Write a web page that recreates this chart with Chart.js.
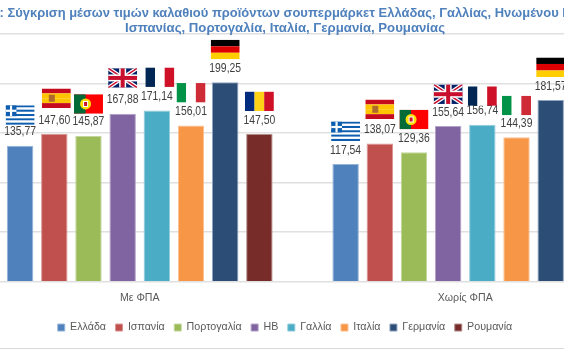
<!DOCTYPE html>
<html>
<head>
<meta charset="utf-8">
<script src="https://cdn.jsdelivr.net/npm/chart.js@4"></script>
<style>
    html, body { margin: 0; padding: 0; background: #fff; }
    body { width: 564px; height: 353px; overflow: hidden; position: relative; }
    #priceChart { position: absolute; left: -58px; top: 0; }
</style>
</head>
<body>
<canvas id="priceChart" width="686" height="353"></canvas>
<script>
// Data. Romania "Χωρίς ΦΠΑ" sits outside the crop, so it stays empty.
const categories = ['Με ΦΠΑ', 'Χωρίς ΦΠΑ'];
const countries = ['Ελλάδα', 'Ισπανία', 'Πορτογαλία', 'ΗΒ', 'Γαλλία', 'Ιταλία', 'Γερμανία', 'Ρουμανία'];
const withVat = [135.77, 147.60, 145.87, 167.88, 171.14, 156.01, 199.25, 147.50];
const withoutVat = [117.54, 138.07, 129.36, 155.64, 156.74, 144.39, 181.57, null];
const titleLines = [
    '\u00a0'.repeat(16) + ': Σύγκριση μέσων τιμών καλαθιού προϊόντων σουπερμάρκετ Ελλάδας, Γαλλίας, Ηνωμένου Βασιλείου,',
    'Ισπανίας, Πορτογαλία, Ιταλία, Γερμανία, Ρουμανίας'
];

const barColors = ['#4F81BD', '#C0504D', '#9BBB59', '#8064A2', '#4BACC6', '#F79646', '#2C4D75', '#772C2A'];
const edgeColors = ['#95B3D7', '#D99694', '#C3D69B', '#B2A2C7', '#92CDDC', '#FAC090', '#8EA4BF', '#B08A88'];
const flagCodes = ['gr', 'es', 'pt', 'gb', 'fr', 'it', 'de', 'ro'];

// the flags were placed by hand in the original, so each one has its own lift over the bar
const flagLift = [[21, 26, 22, 26, 23.5, 23, 23, 23], [23, 24.5, 23, 22, 19, 22, 23, 23]];
const flagNudge = [[0, 2, 0, 0, 3, 0, 0, 0], [0, 0, 0, 0, 0, 0, 0, 0]];

function stripes(ctx, x, y, w, h, colors, vertical) {
    colors.forEach((c, i) => {
        ctx.fillStyle = c;
        if (vertical) ctx.fillRect(x + w * i / colors.length, y, w / colors.length, h);
        else ctx.fillRect(x, y + h * i / colors.length, w, h / colors.length);
    });
}

function drawFlag(ctx, code, x, y, w, h) {
    ctx.save();
    ctx.beginPath();
    ctx.rect(x, y, w, h);
    ctx.clip();
    if (code === 'fr') stripes(ctx, x, y, w, h, ['#002654', '#ffffff', '#CE1126'], true);
    if (code === 'it') stripes(ctx, x, y, w, h, ['#009246', '#ffffff', '#CE2B37'], true);
    if (code === 'ro') stripes(ctx, x, y, w, h, ['#002B7F', '#FCD116', '#CE1126'], true);
    if (code === 'de') stripes(ctx, x, y, w, h, ['#000000', '#DD0000', '#FFCE00'], false);
    if (code === 'es') {
        stripes(ctx, x, y, w, h, ['#C60B1E', '#FFC400', '#FFC400', '#C60B1E'], false);
        ctx.fillStyle = '#AD6A2C';
        ctx.fillRect(x + 7, y + h / 2 - 3.5, 6, 7);
    }
    if (code === 'pt') {
        ctx.fillStyle = '#FF0000';
        ctx.fillRect(x, y, w, h);
        ctx.fillStyle = '#046A38';
        ctx.fillRect(x, y, w * 0.4, h);
        ctx.fillStyle = '#FFE000';
        ctx.beginPath();
        ctx.arc(x + w * 0.4, y + h / 2, 5.5, 0, Math.PI * 2);
        ctx.fill();
        ctx.fillStyle = '#ffffff';
        ctx.fillRect(x + w * 0.4 - 2.5, y + h / 2 - 3, 5, 6);
        ctx.fillStyle = '#C8102E';
        ctx.fillRect(x + w * 0.4 - 1.5, y + h / 2 - 2, 3, 4);
    }
    if (code === 'gr') {
        const blue = '#0D5EAF';
        const rows = [];
        for (let i = 0; i < 9; i++) rows.push(i % 2 ? '#ffffff' : blue);
        stripes(ctx, x, y, w, h, rows, false);
        const c = h * 5 / 9;
        ctx.fillStyle = blue;
        ctx.fillRect(x, y, c, c);
        ctx.fillStyle = '#ffffff';
        ctx.fillRect(x + c * 0.4, y, c * 0.2, c);
        ctx.fillRect(x, y + c * 0.4, c, c * 0.2);
    }
    if (code === 'gb') {
        ctx.fillStyle = '#012169';
        ctx.fillRect(x, y, w, h);
        const cross = (color, lw) => {
            ctx.strokeStyle = color;
            ctx.lineWidth = lw;
            ctx.beginPath();
            ctx.moveTo(x, y);
            ctx.lineTo(x + w, y + h);
            ctx.moveTo(x + w, y);
            ctx.lineTo(x, y + h);
            ctx.stroke();
        };
        cross('#ffffff', 4);
        cross('#C8102E', 1.5);
        ctx.fillStyle = '#ffffff';
        ctx.fillRect(x + w / 2 - 3.5, y, 7, h);
        ctx.fillRect(x, y + h / 2 - 3.5, w, 7);
        ctx.fillStyle = '#C8102E';
        ctx.fillRect(x + w / 2 - 2, y, 4, h);
        ctx.fillRect(x, y + h / 2 - 2, w, 4);
    }
    ctx.restore();
}

// value labels and flags over every bar
const barNotes = {
    id: 'barNotes',
    afterDatasetsDraw(chart) {
        const ctx = chart.ctx;
        chart.data.datasets.forEach((ds, d) => {
            chart.getDatasetMeta(d).data.forEach((bar, c) => {
                if (ds.data[c] === null) return;
                ctx.save();
                ctx.translate(bar.x, bar.y - 14);
                ctx.scale(0.8, 1);
                ctx.font = '13px "Liberation Sans"';
                ctx.fillStyle = '#404040';
                ctx.textAlign = 'center';
                ctx.textBaseline = 'middle';
                ctx.fillText(ds.data[c].toFixed(2).replace('.', ','), 0, 0);
                ctx.restore();
                drawFlag(ctx, flagCodes[d], bar.x - 14.5 + flagNudge[c][d], bar.y - flagLift[c][d] - 19.5, 29, 19.5);
            });
        });
    }
};

// thin rule that closes the chart box at the bottom
const frameLine = {
    id: 'frameLine',
    beforeDraw(chart) {
        const ctx = chart.ctx;
        ctx.save();
        ctx.fillStyle = '#D9D9D9';
        ctx.fillRect(0, 348, chart.width, 1);
        ctx.restore();
    }
};

const priceChart = new Chart(document.getElementById('priceChart'), {
    type: 'bar',
    data: {
        labels: categories,
        datasets: countries.map((name, i) => ({
            label: name,
            data: [withVat[i], withoutVat[i]],
            backgroundColor: barColors[i],
            borderColor: edgeColors[i],
            borderWidth: 1
        }))
    },
    plugins: [barNotes, frameLine],
    options: {
        responsive: false,
        animation: false,
        layout: { padding: { left: 0, right: 0, top: 0, bottom: 10.1 } },
        datasets: { bar: { categoryPercentage: 0.84, barPercentage: 0.774 } },
        scales: {
            x: {
                grid: { display: false, drawTicks: false },
                border: { display: false },
                afterFit(axis) { axis.height = 30.9; },
                ticks: { color: '#595959', font: { family: '"Liberation Sans"', size: 10.6 }, padding: 10 }
            },
            y: {
                display: true,
                min: 0,
                max: 247.5,
                afterFit(axis) { axis.width = 35; },
                ticks: { stepSize: 50, display: false },
                grid: { color: '#E0E0E0', lineWidth: 1.5, drawTicks: false },
                border: { display: false }
            }
        },
        plugins: {
            title: {
                display: true,
                text: titleLines,
                color: '#4F81BD',
                font: { family: '"Liberation Sans"', size: 13.2, weight: 'bold', lineHeight: 1.15 },
                padding: { top: 5.6, bottom: -2 }
            },
            legend: {
                position: 'bottom',
                labels: {
                    boxWidth: 7,
                    boxHeight: 7,
                    padding: 9.5,
                    color: '#595959',
                    font: { family: '"Liberation Sans"', size: 10.7 }
                }
            },
            tooltip: { enabled: false }
        }
    }
});
</script>
</body>
</html>
